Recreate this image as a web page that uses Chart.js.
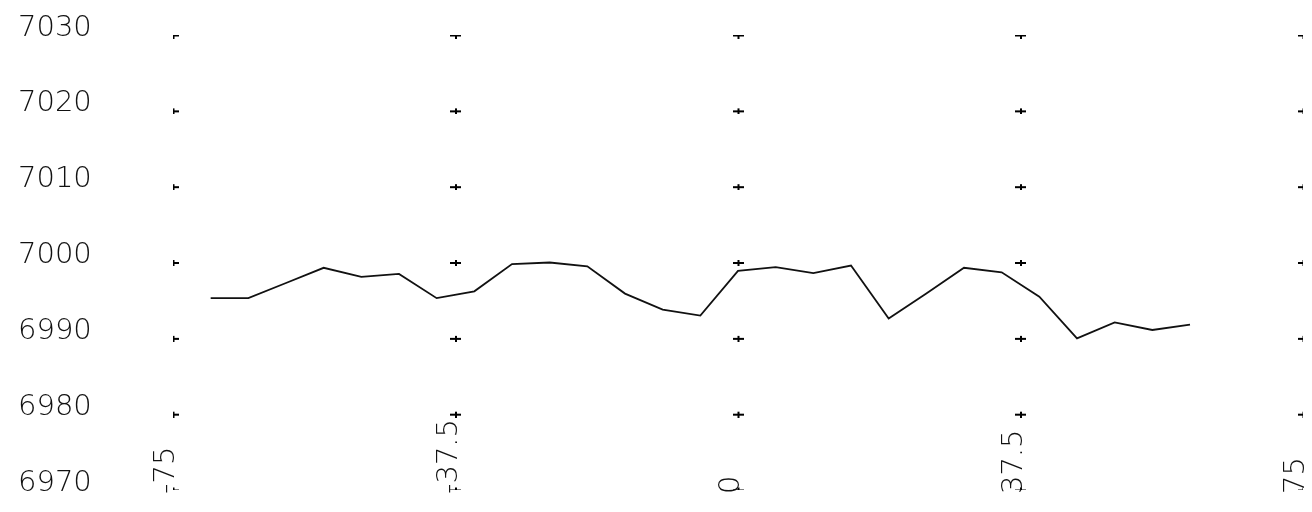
<!DOCTYPE html>
<html>
<head>
<meta charset="utf-8">
<script src="https://cdn.jsdelivr.net/npm/chart.js@4/dist/chart.umd.min.js"></script>
<style>
  html, body { margin: 0; padding: 0; background: #fff; }
  #wrap { width: 1312px; height: 512px; }
</style>
</head>
<body>
<div id="wrap"><canvas id="c" width="1312" height="512"></canvas></div>
<script>
// Sampled positions and readings
const positions = [-70, -65, -60, -55, -50, -45, -40, -35, -30, -25, -20, -15, -10, -5,
                   0, 5, 10, 15, 20, 25, 30, 35, 40, 45, 50, 55, 60];
const readings = [6995.3, 6995.3, 6997.3, 6999.3, 6998.1, 6998.5, 6995.3, 6996.2, 6999.8, 7000.0,
                  6999.5, 6995.9, 6993.8, 6993.0, 6998.9, 6999.4, 6998.6, 6999.6, 6992.6, 6995.9,
                  6999.3, 6998.7, 6995.5, 6990.0, 6992.1, 6991.1, 6991.8];

// Axis ticks
const xTicks = [-75, -37.5, 0, 37.5, 75];
const xTickLabels = ['-75', '-37.5', '0', '37.5', '75'];
const yTicks = [6970, 6980, 6990, 7000, 7010, 7020, 7030];

const LABEL_FONT = '200 29px "DejaVu Sans", sans-serif';

// Small plotter-style "+" used at every grid intersection
function makePlus() {
  const cv = document.createElement('canvas');
  cv.width = 11; cv.height = 7;
  const g = cv.getContext('2d');
  g.fillStyle = '#000';
  g.fillRect(0, 3, 11, 2);
  g.fillRect(5, 1, 2, 6);
  return cv;
}

const gridMarks = [];
xTicks.forEach(x => yTicks.forEach(y => gridMarks.push({ x, y })));

// Rotated x tick labels, reading bottom to top, placed from the x scale
const xLabelPlugin = {
  id: 'xLabels',
  afterDraw(chart) {
    const sx = chart.scales.x;
    const ctx = chart.ctx;
    ctx.save();
    ctx.font = LABEL_FONT;
    ctx.fillStyle = '#111';
    ctx.textAlign = 'left';
    ctx.textBaseline = 'alphabetic';
    xTicks.forEach((v, i) => {
      const px = sx.getPixelForValue(v);
      ctx.save();
      ctx.translate(px + 1, 494);
      ctx.rotate(-Math.PI / 2);
      ctx.fillText(xTickLabels[i], 0, 0);
      ctx.restore();
    });
    ctx.restore();
  }
};

new Chart(document.getElementById('c'), {
  type: 'scatter',
  data: {
    datasets: [
      {
        type: 'line',
        data: positions.map((x, i) => ({ x, y: readings[i] })),
        borderColor: '#111',
        borderWidth: 1.8,
        pointRadius: 0,
        tension: 0,
        fill: false
      },
      {
        data: gridMarks,
        pointStyle: makePlus(),
        pointRadius: 5,
        pointHoverRadius: 5
      }
    ]
  },
  options: {
    responsive: false,
    animation: false,
    events: [],
    layout: { padding: { top: 35, right: 9, bottom: 0, left: 18 } },
    plugins: { legend: { display: false }, tooltip: { enabled: false } },
    scales: {
      x: {
        type: 'linear',
        min: -75,
        max: 75,
        afterBuildTicks(scale) { scale.ticks = xTicks.map(v => ({ value: v })); },
        afterFit(scale) { scale.height = 22; },
        grid: { display: false, drawTicks: false },
        border: { display: false },
        ticks: { display: false }
      },
      y: {
        type: 'linear',
        min: 6970,
        max: 7030,
        afterBuildTicks(scale) { scale.ticks = yTicks.map(v => ({ value: v })); },
        afterFit(scale) { scale.width = 155; },
        grid: { display: false, drawTicks: false },
        border: { display: false },
        ticks: {
          padding: 0,
          crossAlign: 'far',
          labelOffset: -7,
          color: '#111',
          font: { family: '"DejaVu Sans", sans-serif', size: 29, weight: 200 },
          callback: v => String(v)
        }
      }
    }
  },
  plugins: [xLabelPlugin]
});
</script>
</body>
</html>
